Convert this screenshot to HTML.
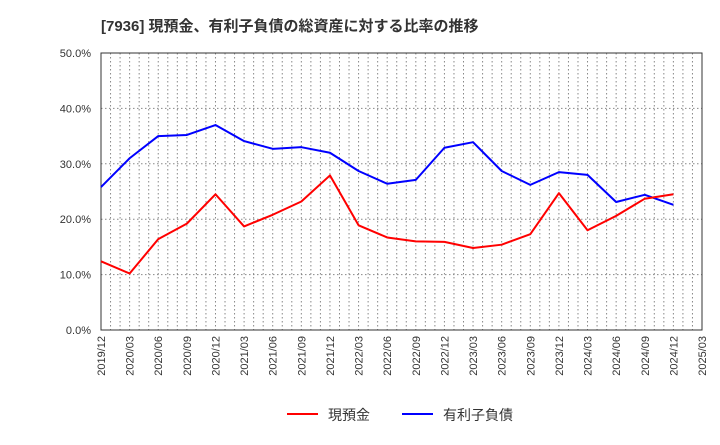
<!DOCTYPE html>
<html><head><meta charset="utf-8"><style>
body{margin:0;background:#fff;font-family:"Liberation Sans","Noto Sans CJK JP",sans-serif;}
</style></head><body>
<svg id="c" width="720" height="440" xmlns="http://www.w3.org/2000/svg">
<text x="101" y="31" font-size="15" font-weight="bold" fill="#333" font-family="Liberation Sans, Noto Sans CJK JP, sans-serif">[7936]  現預金、有利子負債の総資産に対する比率の推移</text>
<g id="grid"></g><g id="axes"></g><g id="series"></g>
<g>
<line x1="287" y1="414" x2="318" y2="414" stroke="#f00" stroke-width="2"/>
<text x="328" y="420" font-size="14" fill="#333">現預金</text>
<line x1="402" y1="414" x2="433" y2="414" stroke="#00f" stroke-width="2"/>
<text x="443" y="420" font-size="14" fill="#333">有利子負債</text>
</g>
</svg>
<script>
const categories=["2019/12","2020/03","2020/06","2020/09","2020/12","2021/03","2021/06","2021/09","2021/12","2022/03","2022/06","2022/09","2022/12","2023/03","2023/06","2023/09","2023/12","2024/03","2024/06","2024/09","2024/12","2025/03"];
const cashRatio=[12.4,10.2,16.4,19.2,24.5,18.7,20.8,23.2,27.9,18.9,16.7,16.0,15.9,14.8,15.4,17.3,24.7,18.0,20.6,23.7,24.5];
const debtRatio=[25.8,31.0,35.0,35.2,37.0,34.1,32.7,33.0,32.0,28.7,26.4,27.1,32.9,33.9,28.7,26.2,28.5,28.0,23.1,24.4,22.6];
const yTicks=[0,10,20,30,40,50];
const NS="http://www.w3.org/2000/svg";
const L=101,R=702,T=53,B=330;
const xs=i=>L+(R-L)*i/(categories.length-1);
const ys=v=>B-(B-T)*v/50;
function mk(tag,attrs,parent){const e=document.createElementNS(NS,tag);for(const k in attrs)e.setAttribute(k,attrs[k]);parent.appendChild(e);return e;}
const grid=document.getElementById('grid'),axes=document.getElementById('axes'),ser=document.getElementById('series');
const months=(categories.length-1)*3;
for(let m=1;m<months;m++){const x=L+(R-L)*m/months;
const l=mk('line',{x1:x,x2:x,y1:T,y2:B,stroke:'#888','stroke-dasharray':'1.5,2.5','stroke-width':1},grid);

}
yTicks.forEach(v=>{const y=ys(v);
if(v>0&&v<50){const g=mk('line',{x1:L,x2:R,y1:y,y2:y,stroke:'#888','stroke-dasharray':'1.5,2.5'},grid);

}
const t=mk('text',{x:91,y:y+4,'text-anchor':'end','font-size':11,fill:'#333'},axes);t.textContent=v.toFixed(1)+'%';

});
const fr=mk('rect',{x:L,y:T,width:R-L,height:B-T,fill:'none',stroke:'#333','stroke-width':1},axes);


categories.forEach((c,i)=>{const x=xs(i);
const t=mk('text',{x:x+4,y:B+6,'text-anchor':'end','font-size':11,fill:'#333',transform:`rotate(-90 ${x+4} ${B+6})`},axes);t.textContent=c;

});
function line(data,color,name){const p=data.map((v,i)=>xs(i)+','+ys(v)).join(' ');
const e=mk('polyline',{points:p,fill:'none',stroke:color,'stroke-width':2,'stroke-linejoin':'round'},ser);

}
line(debtRatio,'#00f','debt-ratio-line');
line(cashRatio,'#f00','cash-ratio-line');
</script>
</body></html>
